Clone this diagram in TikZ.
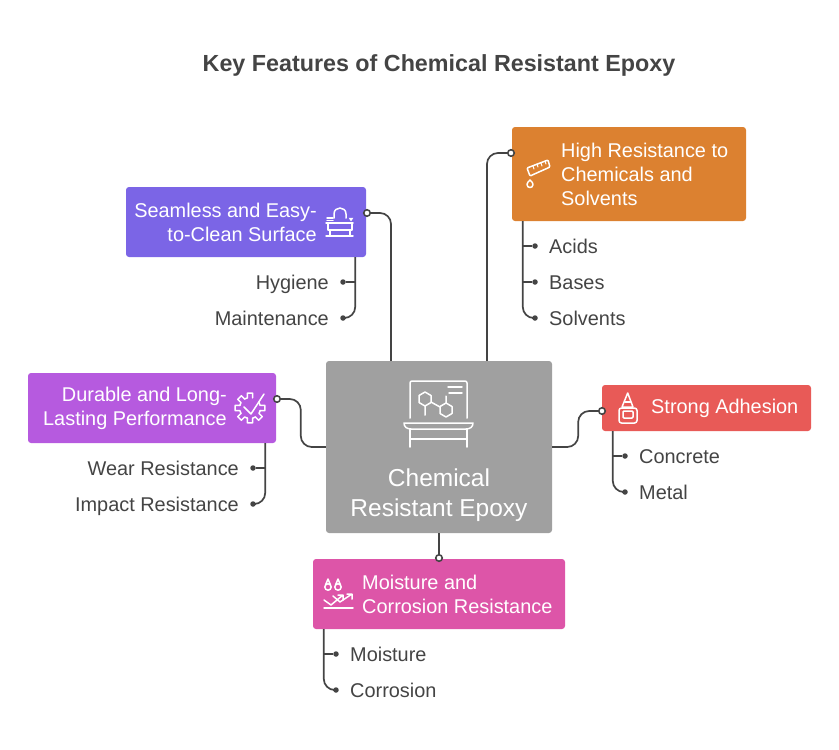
\documentclass[tikz,border=0pt]{standalone}
\usepackage{fontspec}
\setmainfont{Liberation Sans}
\usetikzlibrary{arrows.meta, positioning}
\definecolor{inkgray}{HTML}{444444}
\definecolor{hubgray}{HTML}{A0A0A0}
\definecolor{orangebox}{HTML}{DC8130}
\definecolor{bluebox}{HTML}{7B65E6}
\definecolor{violetbox}{HTML}{B65ADF}
\definecolor{redbox}{HTML}{E85A57}
\definecolor{pinkbox}{HTML}{DD55A8}
\tikzset{
	featbox/.style={rounded corners=3pt, minimum width=#1, inner sep=0pt},
	feattext/.style={text=white, inner sep=0pt, font=\fontsize{19.9}{24}\selectfont},
	leaftext/.style={text=inkgray, inner sep=0pt, text height=15pt, text depth=0pt, font=\fontsize{19.9}{24}\selectfont},
	link/.style={draw=inkgray, line width=1.7pt, rounded corners=11pt},
	stub/.style={draw=inkgray, line width=1.7pt},
	port/.style={circle, draw=inkgray, fill=white, line width=1.6pt, inner sep=0pt, minimum size=6.5pt},
	leafdot/.style={circle, fill=inkgray, inner sep=0pt, minimum size=5.5pt},
	icon/.style={draw=white, line width=1.5pt, line join=round, line cap=round}
}
\begin{document}
\begin{tikzpicture}[x=1pt, y=-1pt]
	\useasboundingbox (0,0) rectangle (839,750);
	\node[text=inkgray, font=\fontsize{23.3}{28}\selectfont\bfseries] (title) at (439,65.5) {Key Features of Chemical Resistant Epoxy};

	% boxes
	\node[featbox=226pt, minimum height=172pt, fill=hubgray] (hub) at (439,447) {};
	\node[featbox=234pt, minimum height=94pt, fill=orangebox] (orange) at (629,174) {};
	\node[featbox=240pt, minimum height=70pt, fill=bluebox] (blue) at (246,222) {};
	\node[featbox=248pt, minimum height=70pt, fill=violetbox] (violet) at (152,408) {};
	\node[featbox=209pt, minimum height=46pt, fill=redbox] (red) at (706.5,408) {};
	\node[featbox=252pt, minimum height=70pt, fill=pinkbox] (pink) at (439,594) {};

	\node[text=white, align=center, inner sep=0pt, font=\fontsize{24.5}{30}\selectfont] (hubtext) at (439,495.5) {Chemical\\Resistant Epoxy};
	\node[feattext, align=left, anchor=west] (orangetext) at (561,174) {High Resistance to\\Chemicals and\\Solvents};
	\node[feattext, align=right, anchor=east] (bluetext) at (317,222) {Seamless and Easy-\\to-Clean Surface};
	\node[feattext, align=right, anchor=east] (violettext) at (227,408) {Durable and Long-\\Lasting Performance};
	\node[feattext, anchor=west] (redtext) at (651,408) {Strong Adhesion};
	\node[feattext, align=left, anchor=west] (pinktext) at (362,594) {Moisture and\\Corrosion Resistance};

	% main links
	\node[port] (porange) at (511,153) {};
	\node[port] (pblue) at (367,213) {};
	\node[port] (pviolet) at (277,399) {};
	\node[port] (pred) at (602,411) {};
	\node[port] (ppink) at (439,558) {};
	\draw[link] ([xshift=48pt]hub.north) |- (porange);
	\draw[link] ([xshift=-48pt]hub.north) |- (pblue);
	\draw[link] (hub.west) -- ++(-25,0) |- (pviolet);
	\draw[link] (hub.east) -- ++(26,0) |- (pred);
	\draw[stub] (hub.south) -- (ppink);

	% leaves
	\coordinate (otrunk) at ([xshift=11pt]orange.south west);
	\node[leafdot] (acidsdot) at (535,246) {};
	\node[leafdot] (basesdot) at (535,282) {};
	\node[leafdot] (solventsdot) at (535,318) {};
	\node[leaftext, right=14pt of acidsdot.center] (acids) {Acids};
	\node[leaftext, right=14pt of basesdot.center] (bases) {Bases};
	\node[leaftext, right=14pt of solventsdot.center] (solvents) {Solvents};
	\draw[link] (otrunk) |- (solventsdot);
	\draw[stub] (otrunk |- acidsdot) -- (acidsdot);
	\draw[stub] (otrunk |- basesdot) -- (basesdot);

	\coordinate (btrunk) at ([xshift=-11pt]blue.south east);
	\node[leafdot] (hygienedot) at (343,282) {};
	\node[leafdot] (maintdot) at (343,318) {};
	\node[leaftext, left=14pt of hygienedot.center] (hygiene) {Hygiene};
	\node[leaftext, left=14pt of maintdot.center] (maint) {Maintenance};
	\draw[link] (btrunk) |- (maintdot);
	\draw[stub] (btrunk |- hygienedot) -- (hygienedot);

	\coordinate (vtrunk) at ([xshift=-11pt]violet.south east);
	\node[leafdot] (weardot) at (253,468) {};
	\node[leafdot] (impactdot) at (253,504) {};
	\node[leaftext, left=14pt of weardot.center] (wear) {Wear Resistance};
	\node[leaftext, left=14pt of impactdot.center] (impact) {Impact Resistance};
	\draw[link] (vtrunk) |- (impactdot);
	\draw[stub] (vtrunk |- weardot) -- (weardot);

	\coordinate (rtrunk) at ([xshift=11pt]red.south west);
	\node[leafdot] (concretedot) at (625,456) {};
	\node[leafdot] (metaldot) at (625,492) {};
	\node[leaftext, right=14pt of concretedot.center] (concrete) {Concrete};
	\node[leaftext, right=14pt of metaldot.center] (metal) {Metal};
	\draw[link] (rtrunk) |- (metaldot);
	\draw[stub] (rtrunk |- concretedot) -- (concretedot);

	\coordinate (ptrunk) at ([xshift=11pt]pink.south west);
	\node[leafdot] (moisturedot) at (336,654) {};
	\node[leafdot] (corrosiondot) at (336,690) {};
	\node[leaftext, right=14pt of moisturedot.center] (moisture) {Moisture};
	\node[leaftext, right=14pt of corrosiondot.center] (corrosion) {Corrosion};
	\draw[link] (ptrunk) |- (corrosiondot);
	\draw[stub] (ptrunk |- moisturedot) -- (moisturedot);

	% icons
	\draw[icon, rounded corners=2pt] (410,418) -- (410,381) -- (467,381) -- (467,418);
	\draw[icon] (448,387) -- (462,387) (449,393) -- (462,393);
	\draw[icon] (425,392) -- (431,395.5) -- (431,402.5) -- (425,406) -- (419,402.5) -- (419,395.5) -- cycle;
	\draw[icon] (446,403) -- (452,406.5) -- (452,413.5) -- (446,417) -- (440,413.5) -- (440,406.5) -- cycle;
	\draw[icon] (425,406) -- (425,415) (431,402) -- (440,407) (446,403) -- (446,396);
	\draw[icon] (404,423) -- (473,423) .. controls (473,427) and (470,429) .. (466,429) -- (411,429) .. controls (407,429) and (404,427) .. (404,423) -- cycle;
	\draw[icon] (410,429) -- (410,447) (467,429) -- (467,447) (410,439) -- (467,439);

	\draw[icon, rounded corners=1pt] (527,168) -- (548,160) -- (550,167) -- (530,176) -- cycle;
	\draw[icon, line width=1pt] (533,166) -- (534,169) (537,164) -- (538,167) (541,163) -- (542,166) (545,161) -- (546,164);
	\draw[icon] (530,180) .. controls (528,182) and (527,183) .. (527,184.5) .. controls (527,188.5) and (533,188.5) .. (533,184.5) .. controls (533,183) and (532,182) .. (530,180) -- cycle;

	\draw[icon] (326,223) -- (353,223) (328,223) -- (328,230) -- (352,230) -- (352,223);
	\draw[icon] (330,230) -- (330,236) (350,230) -- (350,236) (326,236) -- (353,236);
	\draw[icon] (334,218) -- (334,214) .. controls (334,206) and (346,206) .. (346,214) -- (346,218);
	\draw[icon] (327,218) -- (333,218) (327,220.5) -- (333,220.5);
	\draw[white, fill=white] (349,218) -- (353,218) -- (351,221) -- cycle;

	\begin{scope}[shift={(250,408)}]
		\foreach \a in {0,45,90,135,180,225,270} {
			\draw[icon] (\a-31:10.5) -- (\a-14:10.5) -- (\a-10:15) -- (\a+10:15) -- (\a+14:10.5);
		}
	\end{scope}
	\draw[icon] (244,407) -- (251,414) -- (264,394);

	\draw[icon] (627.7,393) -- (622,407) -- (633,407) -- cycle;
	\draw[icon] (625,402) -- (630.5,402);
	\draw[icon, rounded corners=2.5pt] (619,408) rectangle (637,423);
	\draw[icon, rounded corners=1pt] (623,411) rectangle (633,418);

	\draw[icon] (328,587) circle (3.2) (338,587) circle (3.2);
	\draw[icon] (328,579) -- (325.5,585) (328,579) -- (330.5,585) (338,579) -- (335.5,585) (338,579) -- (340.5,585);
	\draw[icon] (324,608) -- (353,608);
	\draw[icon] (324,600) -- (331,605) -- (343,595) (338,595) -- (343,595) -- (343,600);
	\draw[icon] (333,596) -- (340,602) -- (352,594) (347,594) -- (352,594) -- (352,599);
\end{tikzpicture}
\end{document}
